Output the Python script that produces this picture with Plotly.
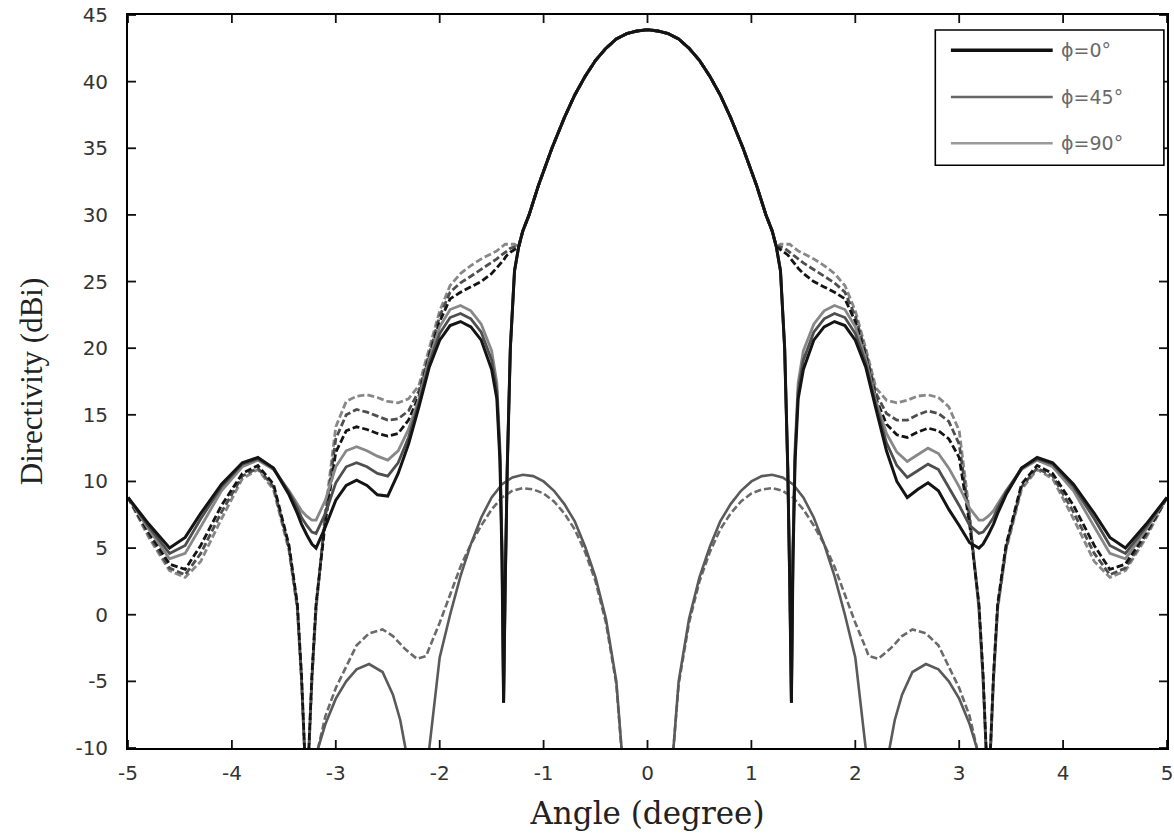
import plotly.graph_objects as go

# ---------------- data ----------------
# shared main-lobe samples (all six co-polar curves coincide here)
BEAM_X = [-1.24, -1.2, -1.14, -1.05, -0.92, -0.8, -0.7, -0.6, -0.5, -0.4, -0.3, -0.2, -0.1, 0.0,
          0.1, 0.2, 0.3, 0.4, 0.5, 0.6, 0.7, 0.8, 0.92, 1.05, 1.14, 1.2, 1.24]
BEAM_Y = [27.6, 28.8, 30.0, 32.2, 35.0, 37.3, 39.0, 40.4, 41.6, 42.5, 43.2, 43.6, 43.8, 43.9,
          43.8, 43.6, 43.2, 42.5, 41.6, 40.4, 39.0, 37.3, 35.0, 32.2, 30.0, 28.8, 27.6]

LEFT_X = [-5.0, -4.8, -4.6, -4.45, -4.3, -4.1, -3.9, -3.75, -3.6, -3.45,
          -3.37, -3.33, -3.28, -3.23, -3.19, -3.1, -3.0, -2.9, -2.8, -2.7,
          -2.6, -2.5, -2.4, -2.3, -2.2, -2.1, -2.0, -1.9, -1.8, -1.7,
          -1.6, -1.5, -1.45, -1.42, -1.40, -1.385, -1.37, -1.35, -1.32, -1.28]
RIGHT_X = [1.28, 1.32, 1.35, 1.37, 1.385, 1.40, 1.42, 1.45, 1.5, 1.6,
           1.7, 1.8, 1.9, 2.0, 2.1, 2.2, 2.3, 2.4, 2.5, 2.6,
           2.7, 2.8, 2.9, 3.0, 3.1, 3.19, 3.23, 3.28, 3.33, 3.37,
           3.45, 3.6, 3.75, 3.9, 4.1, 4.3, 4.45, 4.6, 4.8, 5.0]

# co-polar, solid
phi0_solid_left = [8.8, 6.8, 5.0, 5.8, 7.6, 9.8, 11.4, 11.8, 11.0, 9.0,
                   7.6, 6.8, 6.0, 5.3, 5.0, 6.6, 8.6, 9.7, 10.1, 9.7,
                   9.0, 8.9, 10.6, 12.8, 15.6, 18.6, 20.6, 21.7, 22.0, 21.6,
                   20.6, 18.4, 16.2, 11.5, 4.0, -6.6, 2.0, 11.0, 20.0, 25.8]
phi0_solid_right = [25.8, 20.0, 11.0, 2.0, -6.6, 4.0, 11.5, 16.2, 18.4, 20.6,
                    21.6, 22.0, 21.7, 20.6, 18.6, 15.4, 12.3, 10.0, 8.8, 9.4,
                    9.9, 9.3, 7.9, 6.7, 5.4, 5.0, 5.3, 6.0, 6.8, 7.6,
                    9.0, 11.0, 11.8, 11.4, 9.8, 7.6, 5.8, 5.0, 6.8, 8.8]
phi45_solid_left = [8.8, 6.6, 4.6, 5.2, 7.2, 9.6, 11.3, 11.7, 11.0, 9.2,
                    8.0, 7.3, 6.7, 6.2, 6.1, 7.6, 9.9, 11.1, 11.4, 11.1,
                    10.6, 10.4, 11.4, 13.3, 15.9, 18.9, 21.1, 22.3, 22.6, 22.2,
                    21.2, 19.1, 16.8, 12.0, 4.5, -6.6, 2.0, 11.0, 20.0, 25.8]
phi45_solid_right = [25.8, 20.0, 11.0, 2.0, -6.6, 4.5, 12.0, 16.8, 19.1, 21.2,
                     22.2, 22.6, 22.3, 21.1, 18.9, 15.7, 12.9, 11.2, 10.3, 10.8,
                     11.3, 10.9, 9.6, 8.2, 6.7, 6.1, 6.2, 6.7, 7.3, 8.0,
                     9.2, 11.0, 11.7, 11.3, 9.6, 7.2, 5.2, 4.6, 6.6, 8.8]
phi90_solid_left = [8.8, 6.4, 4.2, 4.6, 6.6, 9.3, 11.1, 11.6, 10.9, 9.3,
                    8.3, 7.8, 7.4, 7.1, 7.1, 8.6, 11.1, 12.3, 12.6, 12.3,
                    11.9, 11.6, 12.3, 13.9, 16.2, 19.2, 21.6, 22.9, 23.2, 22.8,
                    21.8, 19.8, 17.4, 12.5, 5.0, -6.6, 2.0, 11.0, 20.0, 25.8]
phi90_solid_right = [25.8, 20.0, 11.0, 2.0, -6.6, 5.0, 12.5, 17.4, 19.8, 21.8,
                     22.8, 23.2, 22.9, 21.6, 19.2, 16.0, 13.6, 12.2, 11.5, 12.0,
                     12.5, 12.1, 11.0, 9.6, 8.0, 7.1, 7.1, 7.4, 7.8, 8.3,
                     9.3, 10.9, 11.6, 11.1, 9.3, 6.6, 4.6, 4.2, 6.4, 8.8]

# co-polar, dashed
phi0_dash_left = [8.8, 6.2, 3.8, 3.4, 5.2, 8.2, 10.6, 11.2, 9.8, 5.2,
                  0.8, -4.5, -14.0, -4.5, 0.8, 7.0, 12.2, 13.8, 14.1, 13.9,
                  13.6, 13.4, 13.6, 14.6, 16.4, 19.4, 22.0, 23.7, 24.2, 24.6,
                  25.0, 25.6, 26.0, 26.3, 26.5, 26.6, 26.8, 27.0, 27.2, 27.4]
phi0_dash_right = [27.4, 27.2, 27.0, 26.8, 26.6, 26.5, 26.3, 26.0, 25.6, 25.0,
                   24.6, 24.2, 23.7, 22.0, 19.4, 16.2, 14.3, 13.5, 13.3, 13.7,
                   14.0, 13.8, 13.2, 11.8, 6.8, 0.8, -4.5, -14.0, -4.5, 0.8,
                   5.2, 9.8, 11.2, 10.6, 8.2, 5.2, 3.4, 3.8, 6.2, 8.8]
phi45_dash_left = [8.8, 6.0, 3.5, 3.0, 4.6, 7.7, 10.4, 11.0, 9.6, 5.0,
                   0.6, -4.8, -14.0, -4.8, 0.6, 7.4, 13.2, 15.0, 15.4, 15.2,
                   14.9, 14.6, 14.7, 15.3, 16.8, 19.7, 22.4, 24.2, 24.9, 25.4,
                   25.9, 26.4, 26.7, 26.9, 27.0, 27.1, 27.2, 27.3, 27.5, 27.6]
phi45_dash_right = [27.6, 27.5, 27.3, 27.2, 27.1, 27.0, 26.9, 26.7, 26.4, 25.9,
                    25.4, 24.9, 24.2, 22.4, 19.7, 16.6, 15.1, 14.6, 14.6, 15.0,
                    15.3, 15.1, 14.5, 12.8, 7.2, 0.6, -4.8, -14.0, -4.8, 0.6,
                    5.0, 9.6, 11.0, 10.4, 7.7, 4.6, 3.0, 3.5, 6.0, 8.8]
phi90_dash_left = [8.8, 5.8, 3.3, 2.8, 4.0, 7.2, 10.2, 10.9, 9.4, 4.8,
                   0.4, -5.0, -14.0, -5.0, 0.4, 7.8, 14.1, 16.0, 16.4, 16.5,
                   16.3, 16.0, 15.9, 16.2, 17.2, 20.0, 22.8, 24.7, 25.6, 26.2,
                   26.7, 27.1, 27.3, 27.5, 27.6, 27.7, 27.8, 27.8, 27.8, 27.8]
phi90_dash_right = [27.8, 27.8, 27.8, 27.8, 27.7, 27.6, 27.5, 27.3, 27.1, 26.7,
                    26.2, 25.6, 24.7, 22.8, 20.0, 17.0, 16.1, 15.9, 16.1, 16.4,
                    16.5, 16.3, 15.6, 13.8, 7.6, 0.4, -5.0, -14.0, -5.0, 0.4,
                    4.8, 9.4, 10.9, 10.2, 7.2, 4.0, 2.8, 3.3, 5.8, 8.8]

# cross-polar lobes
XPOL_X = [-3.3, -3.17, -3.1, -3.0, -2.9, -2.8, -2.68, -2.55, -2.45, -2.38,
          -2.33, -2.22, -2.13, -2.1, -2.0, -1.9, -1.8, -1.7, -1.6, -1.5,
          -1.4, -1.3, -1.2, -1.1, -1.0, -0.9, -0.8, -0.7, -0.6, -0.5,
          -0.4, -0.3, -0.25, -0.15, 0.0, 0.15, 0.25, 0.3, 0.4, 0.5,
          0.6, 0.7, 0.8, 0.9, 1.0, 1.1, 1.2, 1.3, 1.4, 1.5,
          1.6, 1.7, 1.8, 1.9, 2.0, 2.1, 2.13, 2.22, 2.33, 2.38,
          2.45, 2.55, 2.68, 2.8, 2.9, 3.0, 3.1, 3.17, 3.3]
xpol_solid = [-16, -10.0, -8.2, -6.3, -5.0, -4.1, -3.7, -4.3, -6.0, -7.9,
              -10.0, -20, -14, -10.0, -3.2, 0.0, 2.9, 5.3, 7.3, 8.8,
              9.8, 10.3, 10.5, 10.4, 10.0, 9.3, 8.3, 7.0, 5.1, 2.8,
              -0.3, -5.0, -10.0, -20, -40, -20, -10.0, -5.0, -0.3, 2.8,
              5.1, 7.0, 8.3, 9.3, 10.0, 10.4, 10.5, 10.3, 9.8, 8.8,
              7.3, 5.3, 2.9, 0.0, -3.2, -10.0, -14, -20, -10.0, -7.9,
              -6.0, -4.3, -3.7, -4.1, -5.0, -6.3, -8.2, -10.0, -16]
xpol_dash = [-16, -10.0, -7.6, -5.5, -3.9, -2.3, -1.4, -1.1, -1.6, -2.2,
             -2.6, -3.3, -3.1, -2.5, -0.6, 1.5, 3.6, 5.3, 6.7, 7.9,
             8.8, 9.3, 9.5, 9.4, 9.1, 8.5, 7.6, 6.4, 4.7, 2.5,
             -0.6, -5.2, -10.0, -20, -40, -20, -10.0, -5.2, -0.6, 2.5,
             4.7, 6.4, 7.6, 8.5, 9.1, 9.4, 9.5, 9.3, 8.8, 7.9,
             6.7, 5.3, 3.6, 1.5, -0.6, -2.5, -3.1, -3.3, -2.6, -2.2,
             -1.6, -1.1, -1.4, -2.3, -3.9, -5.5, -7.6, -10.0, -16]

X_TICKS = [-5, -4, -3, -2, -1, 0, 1, 2, 3, 4, 5]
X_TICK_LABELS = ['-5', '-4', '-3', '-2', '-1', '0', '1', '2', '3', '4', '5']
Y_TICKS = [-10, -5, 0, 5, 10, 15, 20, 25, 30, 35, 40, 45]
Y_TICK_LABELS = ['-10', '-5', '0', '5', '10', '15', '20', '25', '30', '35', '40', '45']
LEGEND_LABELS = ['\u03d5=0\u00b0', '\u03d5=45\u00b0', '\u03d5=90\u00b0']

# ---------------- figure ----------------
C0, C45, C90 = '#141414', '#4e4e4e', '#888888'
DASH = '7px,3px'

fig = go.Figure()

def add_copol(name, left, right, color, width, dash):
    fig.add_trace(go.Scatter(
        x=LEFT_X + BEAM_X + RIGHT_X, y=left + BEAM_Y + right,
        mode='lines', name=name, showlegend=False,
        line=dict(color=color, width=width, dash=dash)))

# cross-pol first (behind)
fig.add_trace(go.Scatter(x=XPOL_X, y=xpol_dash, mode='lines', showlegend=False,
                         name='cross-pol (dashed)',
                         line=dict(color='#6a6a6a', width=2.6, dash=DASH)))
fig.add_trace(go.Scatter(x=XPOL_X, y=xpol_solid, mode='lines', showlegend=False,
                         name='cross-pol',
                         line=dict(color='#5a5a5a', width=2.6)))

add_copol(LEGEND_LABELS[2] + ' (dashed)', phi90_dash_left, phi90_dash_right, C90, 2.8, DASH)
add_copol(LEGEND_LABELS[1] + ' (dashed)', phi45_dash_left, phi45_dash_right, C45, 2.8, DASH)
add_copol(LEGEND_LABELS[0] + ' (dashed)', phi0_dash_left, phi0_dash_right, C0, 2.8, DASH)
add_copol(LEGEND_LABELS[2], phi90_solid_left, phi90_solid_right, C90, 2.8, None)
add_copol(LEGEND_LABELS[1], phi45_solid_left, phi45_solid_right, C45, 2.8, None)
add_copol(LEGEND_LABELS[0], phi0_solid_left, phi0_solid_right, C0, 3.0, None)

axis_common = dict(
    showgrid=False, zeroline=False, showline=True, linecolor='black', linewidth=1.8,
    mirror=True, ticks='inside', ticklen=9, tickwidth=2, tickcolor='rgba(0,0,0,0)',
    tickfont=dict(family='DejaVu Sans', size=20, color='#333333'),
    automargin=False, layer='above traces',
)

fig.update_layout(
    width=1174, height=834,
    margin=dict(l=128, r=7, t=15, b=86, autoexpand=False),
    paper_bgcolor='white', plot_bgcolor='white',
    showlegend=False,
    xaxis=dict(range=[-5, 5], tickvals=X_TICKS, ticktext=X_TICK_LABELS,
               ticklabelstandoff=6,
               title=dict(text='Angle (degree)', standoff=18,
                          font=dict(family='DejaVu Serif', size=31, color='#222222')),
               **axis_common),
    yaxis=dict(range=[-10, 45], tickvals=Y_TICKS, ticktext=Y_TICK_LABELS,
               ticklabelstandoff=14,
               title=dict(text='Directivity (dBi)', standoff=24,
                          font=dict(family='Liberation Serif', size=31, color='#222222')),
               **axis_common),
)

# MATLAB-style inward tick marks on all four sides (drawn at the tick values)
TICK_PX = 8
PLOT_W, PLOT_H = 1174 - 128 - 7, 834 - 15 - 86
for tv in X_TICKS:
    for y0, y1 in ((0, TICK_PX / PLOT_H), (1, 1 - TICK_PX / PLOT_H)):
        fig.add_shape(type='line', xref='x', yref='paper', x0=tv, x1=tv, y0=y0, y1=y1,
                      line=dict(color='#111111', width=1.8), layer='above')
for tv in Y_TICKS:
    for x0, x1 in ((0, TICK_PX / PLOT_W), (1, 1 - TICK_PX / PLOT_W)):
        fig.add_shape(type='line', xref='paper', yref='y', x0=x0, x1=x1, y0=tv, y1=tv,
                      line=dict(color='#111111', width=1.8), layer='above')

# legend box drawn in paper coordinates (MATLAB style, long line samples)
fig.add_shape(type='rect', xref='paper', yref='paper', x0=0.777, x1=0.997, y0=0.795, y1=0.9795,
              line=dict(color='black', width=1.6), fillcolor='white', layer='above')
leg_y = [0.952, 0.888, 0.825]
leg_colors = ['#111111', '#666666', '#9a9a9a']
leg_widths = [3.5, 2.5, 2.5]
for lab, yy, col, w in zip(LEGEND_LABELS, leg_y, leg_colors, leg_widths):
    fig.add_shape(type='line', xref='paper', yref='paper', x0=0.792, x1=0.890, y0=yy, y1=yy,
                  line=dict(color=col, width=w), layer='above')
    fig.add_annotation(xref='paper', yref='paper', x=0.896, y=yy, xanchor='left', yanchor='middle',
                       text=lab, showarrow=False,
                       font=dict(family='DejaVu Sans', size=19, color='#6a6a6a'))

fig.write_html('out.html', config={'displayModeBar': False},
               post_script="document.body.style.margin='0';document.body.style.overflow='hidden';")
